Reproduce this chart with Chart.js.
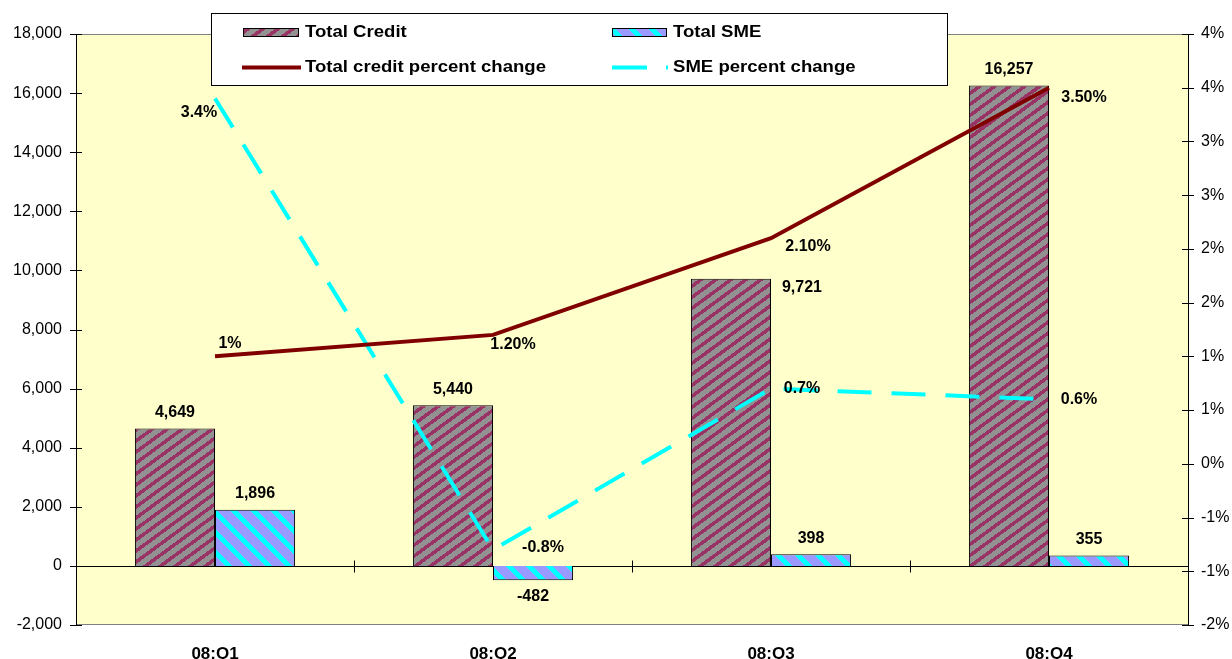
<!DOCTYPE html>
<html>
<head>
<meta charset="utf-8">
<title>Total Credit / Total SME</title>
<script src="https://cdn.jsdelivr.net/npm/chart.js@4.4.1/dist/chart.umd.min.js"></script>
<style>
    html, body { margin: 0; padding: 0; background: #ffffff; }
    #wrap { width: 1232px; height: 659px; }
</style>
</head>
<body>
<div id="wrap"><canvas id="creditChart" width="1232" height="659"></canvas></div>
<script>
// Data
const quarters = ['08:Q1', '08:Q2', '08:Q3', '08:Q4'];
const totalCredit = [4649, 5440, 9721, 16257];
const totalSme = [1896, -482, 398, 355];
const creditPctChange = [1.0, 1.2, 2.1, 3.5];
const smePctChange = [3.4, -0.8, 0.7, 0.6];
const creditPctDecimals = [0, 2, 2, 2];   // the source shows "1%" but "1.20%"
const smePctDecimals = [1, 1, 1, 1];
const leftAxisRange = [-2000, 18000, 2000];   // min, max, step
const rightAxisRange = [-1.5, 4, 0.5];        // min, max, step (percent)

// Label placement tweaks (pixels)
const creditLabelShift = [[0, 0], [0, 0], [71, 25], [0, 0]];
const smeLabelShift = [[0, 0], [0, 0], [0, 0], [0, 0]];
const creditPctLabelShift = [[15, -13], [20, 10], [37, 8], [35, 10]];
const smePctLabelShift = [[-16, 14], [50, -2], [31, 0], [30, 0]];

const FONT = '"Liberation Sans", Arial, sans-serif';
const canvas = document.getElementById('creditChart');
const ctx = canvas.getContext('2d');

// Crisp pixel stripes like the Excel hatch patterns
function makeStripes(bg, fg, w, h, run, dir) {
    const c = document.createElement('canvas');
    c.width = w;
    c.height = h;
    const g = c.getContext('2d');
    g.fillStyle = bg;
    g.fillRect(0, 0, w, h);
    g.fillStyle = fg;
    for (let y = 0; y < h; y++) {
        const x0 = dir === '/' ? Math.round((h - 1 - y) * w / h) : Math.round(y * w / h);
        for (let k = 0; k < run; k++) {
            g.fillRect((x0 + k) % w, y, 1, 1);
        }
    }
    return ctx.createPattern(c, 'repeat');
}

const creditFill = makeStripes('#929292', '#993366', 15, 11, 6, '/');
const smeFill = makeStripes('#9999FF', '#00FFFF', 20, 20, 7, '\\');

function pctTick(v) {
    // Excel rounds half away from zero
    const r = Math.sign(v) * Math.round(Math.abs(v));
    return (r === 0 ? 0 : r) + '%';
}

function drawText(c, text, x, y, font, align, stretch) {
    c.save();
    c.font = font;
    c.fillStyle = '#000000';
    c.textAlign = align;
    c.textBaseline = 'middle';
    c.translate(x, y);
    c.scale(stretch || 1, 1);
    c.fillText(text, 0, 0);
    c.restore();
}

const excelLook = {
    id: 'excelLook',
    beforeDraw(chart) {
        const c = chart.ctx;
        const a = chart.chartArea;
        c.save();
        c.fillStyle = '#FFFFCC';
        c.fillRect(a.left, a.top, a.right - a.left, a.bottom - a.top);
        c.strokeStyle = '#808080';
        c.lineWidth = 1;
        c.beginPath();
        c.moveTo(a.left, a.top + 0.5);
        c.lineTo(a.right, a.top + 0.5);
        c.moveTo(a.left, a.bottom - 0.5);
        c.lineTo(a.right, a.bottom - 0.5);
        c.stroke();
        c.restore();
    },
    beforeDatasetsDraw(chart) {
        // zero line with category separators
        const c = chart.ctx;
        const a = chart.chartArea;
        const y0 = Math.round(chart.scales.y.getPixelForValue(0)) + 0.5;
        const step = (a.right - a.left) / quarters.length;
        c.save();
        c.strokeStyle = '#000000';
        c.lineWidth = 1;
        c.beginPath();
        c.moveTo(a.left, y0);
        c.lineTo(a.right, y0);
        for (let k = 1; k < quarters.length; k++) {
            const x = Math.round(a.left + k * step) + 0.5;
            c.moveTo(x, y0 - 6);
            c.lineTo(x, y0 + 6);
        }
        c.stroke();
        c.restore();
    },
    afterDatasetsDraw(chart) {
        const c = chart.ctx;
        const labelFont = 'bold 16px ' + FONT;

        // bar values
        [[0, totalCredit, creditLabelShift], [1, totalSme, smeLabelShift]].forEach(([idx, values, shift]) => {
            chart.getDatasetMeta(idx).data.forEach((el, i) => {
                const v = values[i];
                const y = v >= 0 ? el.y - 16 : el.y + 16;
                drawText(c, v.toLocaleString('en-US'), el.x + shift[i][0], y + shift[i][1], labelFont, 'center');
            });
        });

        // line values
        [[2, creditPctChange, creditPctDecimals, creditPctLabelShift],
         [3, smePctChange, smePctDecimals, smePctLabelShift]].forEach(([idx, values, dec, shift]) => {
            chart.getDatasetMeta(idx).data.forEach((pt, i) => {
                const txt = values[i].toFixed(dec[i]) + '%';
                drawText(c, txt, pt.x + shift[i][0], pt.y + shift[i][1], labelFont, 'center');
            });
        });
    },
    afterDraw(chart) {
        const c = chart.ctx;

        // crossing tick marks on both value axes
        c.save();
        c.strokeStyle = '#000000';
        c.lineWidth = 1;
        c.beginPath();
        ['y', 'y1'].forEach(id => {
            const s = chart.scales[id];
            const ax = (id === 'y' ? chart.chartArea.left : chart.chartArea.right);
            s.ticks.forEach(t => {
                const py = Math.round(s.getPixelForValue(t.value)) + 0.5;
                c.moveTo(ax - 6, py);
                c.lineTo(ax + 6, py);
            });
        });
        c.stroke();
        c.restore();

        // legend box
        const legendFont = 'bold 16px ' + FONT;
        c.save();
        c.fillStyle = '#ffffff';
        c.fillRect(211, 13, 737, 73);
        c.strokeStyle = '#000000';
        c.lineWidth = 1;
        c.strokeRect(211.5, 13.5, 736, 72);

        c.fillStyle = creditFill;
        c.fillRect(243, 28, 56, 9);
        c.strokeRect(243.5, 28.5, 55, 8);
        c.fillStyle = smeFill;
        c.fillRect(612, 28, 55, 9);
        c.strokeRect(612.5, 28.5, 54, 8);

        c.lineWidth = 4;
        c.strokeStyle = '#800000';
        c.beginPath();
        c.moveTo(242, 67.5);
        c.lineTo(301, 67.5);
        c.stroke();

        c.strokeStyle = '#00FFFF';
        c.setLineDash([35, 19]);
        c.beginPath();
        c.moveTo(612, 67.5);
        c.lineTo(668, 67.5);
        c.stroke();
        c.restore();

        drawText(c, chart.data.datasets[0].label, 305, 33, legendFont, 'left', 1.16);
        drawText(c, chart.data.datasets[2].label, 305, 68, legendFont, 'left', 1.16);
        drawText(c, chart.data.datasets[1].label, 673, 33, legendFont, 'left', 1.16);
        drawText(c, chart.data.datasets[3].label, 673, 68, legendFont, 'left', 1.16);
    }
};

new Chart(ctx, {
    type: 'bar',
    data: {
        labels: quarters,
        datasets: [
            {
                label: 'Total Credit',
                data: totalCredit,
                backgroundColor: creditFill,
                borderColor: '#000000',
                borderWidth: 1,
                yAxisID: 'y',
                order: 2
            },
            {
                label: 'Total SME',
                data: totalSme,
                backgroundColor: smeFill,
                borderColor: '#000000',
                borderWidth: 1,
                yAxisID: 'y',
                order: 2
            },
            {
                type: 'line',
                label: 'Total credit percent change',
                data: creditPctChange,
                borderColor: '#800000',
                borderWidth: 4,
                pointRadius: 0,
                tension: 0,
                fill: false,
                yAxisID: 'y1',
                order: 1
            },
            {
                type: 'line',
                label: 'SME percent change',
                data: smePctChange,
                borderColor: '#00FFFF',
                borderWidth: 4,
                borderDash: [34, 20],
                pointRadius: 0,
                tension: 0,
                fill: false,
                yAxisID: 'y1',
                order: 1
            }
        ]
    },
    options: {
        responsive: false,
        animation: false,
        devicePixelRatio: 1,
        categoryPercentage: 0.576,
        barPercentage: 1.0,
        layout: { padding: { top: 34, left: 0, right: 0, bottom: 0 } },
        plugins: {
            legend: { display: false },
            tooltip: { enabled: false }
        },
        scales: {
            x: {
                offset: true,
                grid: { display: false, drawTicks: false },
                border: { display: false },
                ticks: {
                    color: '#000000',
                    font: { family: FONT, size: 17, weight: 'bold' },
                    padding: 19,
                    maxRotation: 0
                },
                afterFit(scale) { scale.height = 34; }
            },
            y: {
                position: 'left',
                min: leftAxisRange[0],
                max: leftAxisRange[1],
                grid: { display: false, drawTicks: false },
                border: { display: true, color: '#000000', width: 1 },
                ticks: {
                    stepSize: leftAxisRange[2],
                    color: '#000000',
                    font: { family: FONT, size: 16 },
                    padding: 14,
                    callback: v => v.toLocaleString('en-US')
                },
                afterFit(scale) { scale.width = 76; }
            },
            y1: {
                position: 'right',
                min: rightAxisRange[0],
                max: rightAxisRange[1],
                grid: { display: false, drawTicks: false },
                border: { display: true, color: '#000000', width: 1 },
                ticks: {
                    stepSize: rightAxisRange[2],
                    color: '#000000',
                    font: { family: FONT, size: 16 },
                    padding: 13,
                    callback: v => pctTick(v)
                },
                afterFit(scale) { scale.width = 44; }
            }
        }
    },
    plugins: [excelLook]
});
</script>
</body>
</html>
